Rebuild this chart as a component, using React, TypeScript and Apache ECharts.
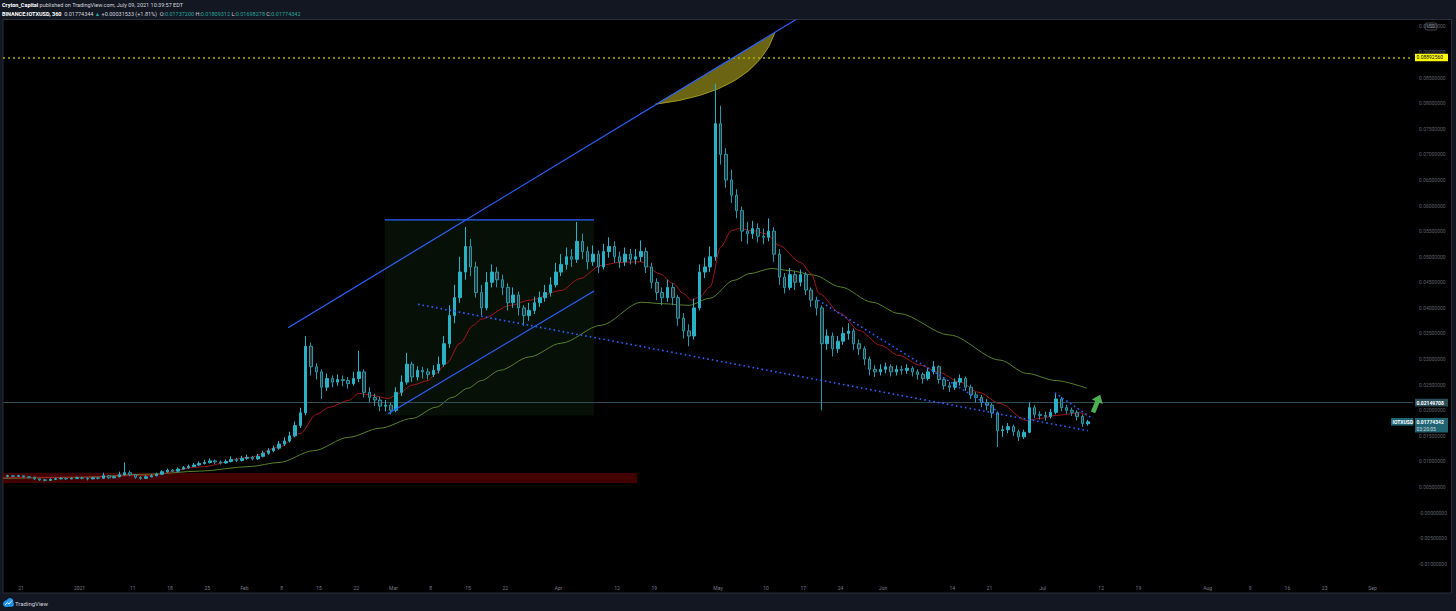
import React, { useEffect, useRef } from "react";
import * as echarts from "echarts";

// ---------- x is measured in days since 2021-01-01 ----------
const DAY = 86400000;
const T0 = Date.UTC(2021, 0, 1);
const START_DAY = -14; // first candle: 2020-12-18 (daily candles)
const X_MIN_DAY = -14.38;
const X_MAX_DAY = 250.6;
const Y_MIN = -0.01336;
const Y_MAX = 0.09625;

// ---------- candles: [open, close, low, high], one per day from 2020-12-18 ----------
const ohlc: number[][] = [
  [0.0071, 0.0072, 0.0069, 0.0074], [0.0072, 0.0071, 0.0069, 0.0073], [0.0071, 0.0072, 0.007, 0.0074],
  [0.0072, 0.007, 0.0068, 0.0073], [0.007, 0.0069, 0.0067, 0.0071], [0.0069, 0.0066, 0.0064, 0.007],
  [0.0066, 0.0064, 0.0062, 0.0067], [0.0064, 0.0063, 0.0061, 0.0066], [0.0063, 0.0065, 0.0062, 0.0067],
  [0.0065, 0.0066, 0.0064, 0.0068], [0.0066, 0.0067, 0.0065, 0.0069], [0.0067, 0.0066, 0.0064, 0.0068],
  [0.0066, 0.0067, 0.0065, 0.0069], [0.0067, 0.0068, 0.0066, 0.007],
  // Jan 2021
  [0.0068, 0.0067, 0.0065, 0.007], [0.0067, 0.0066, 0.0063, 0.0069], [0.0066, 0.0068, 0.0065, 0.007],
  [0.0068, 0.0067, 0.0065, 0.007], [0.0067, 0.0072, 0.0066, 0.0078], [0.0072, 0.0068, 0.0066, 0.0073],
  [0.0068, 0.007, 0.0067, 0.0072], [0.007, 0.0074, 0.0069, 0.008], [0.0074, 0.0078, 0.0072, 0.0098],
  [0.0078, 0.0074, 0.0071, 0.0082], [0.0074, 0.0069, 0.0066, 0.0075], [0.0069, 0.0067, 0.0064, 0.0071],
  [0.0067, 0.007, 0.0066, 0.0073], [0.007, 0.0072, 0.0069, 0.0075], [0.0072, 0.0075, 0.0071, 0.0078],
  [0.0075, 0.008, 0.0074, 0.0083], [0.008, 0.0083, 0.0078, 0.0086], [0.0083, 0.0081, 0.0079, 0.0085],
  [0.0081, 0.0085, 0.008, 0.0088], [0.0085, 0.0088, 0.0084, 0.0091], [0.0088, 0.009, 0.0086, 0.0094],
  [0.009, 0.0093, 0.0089, 0.0097], [0.0093, 0.0096, 0.0091, 0.01], [0.0096, 0.0098, 0.0094, 0.0103],
  [0.0098, 0.0101, 0.0096, 0.0106], [0.0101, 0.0099, 0.0095, 0.0104], [0.0099, 0.0097, 0.0094, 0.0102],
  [0.0097, 0.01, 0.0095, 0.0104], [0.01, 0.0104, 0.0098, 0.011], [0.0104, 0.0102, 0.0099, 0.0107],
  [0.0102, 0.0106, 0.01, 0.0111],
  // Feb
  [0.0106, 0.0108, 0.0103, 0.0113], [0.0108, 0.0105, 0.0102, 0.0111], [0.0105, 0.011, 0.0103, 0.0115],
  [0.011, 0.0116, 0.0108, 0.0121], [0.0116, 0.0121, 0.0113, 0.0126], [0.0121, 0.0126, 0.0118, 0.0131],
  [0.0126, 0.0134, 0.0123, 0.014], [0.0134, 0.014, 0.013, 0.0147], [0.014, 0.015, 0.0137, 0.0158],
  [0.015, 0.017, 0.0147, 0.0178], [0.017, 0.0195, 0.0165, 0.0205], [0.0195, 0.0325, 0.019, 0.0345],
  [0.0325, 0.0285, 0.0268, 0.0332], [0.0285, 0.0275, 0.026, 0.0292], [0.0275, 0.0245, 0.0222, 0.028],
  [0.0245, 0.0262, 0.0238, 0.0272], [0.0262, 0.0255, 0.0245, 0.0268], [0.0255, 0.026, 0.0248, 0.027],
  [0.026, 0.0258, 0.0247, 0.0268], [0.0258, 0.0252, 0.0242, 0.0265], [0.0252, 0.0262, 0.0248, 0.0275],
  [0.0262, 0.0275, 0.0255, 0.0316], [0.0275, 0.0235, 0.0225, 0.028], [0.0235, 0.0225, 0.0215, 0.0245],
  [0.0225, 0.022, 0.0208, 0.0232], [0.022, 0.0208, 0.0198, 0.0226], [0.0208, 0.021, 0.0198, 0.022],
  [0.021, 0.02, 0.0192, 0.0215],
  // Mar
  [0.02, 0.0235, 0.0196, 0.0245], [0.0235, 0.0255, 0.0228, 0.0268], [0.0255, 0.029, 0.025, 0.0312],
  [0.029, 0.0265, 0.0255, 0.0295], [0.0265, 0.0278, 0.0258, 0.0286], [0.0278, 0.0275, 0.0262, 0.0285],
  [0.0275, 0.027, 0.026, 0.0282], [0.027, 0.0278, 0.0265, 0.0288], [0.0278, 0.029, 0.0272, 0.0305],
  [0.029, 0.033, 0.0285, 0.0345], [0.033, 0.0385, 0.0322, 0.0405], [0.0385, 0.042, 0.037, 0.0445],
  [0.042, 0.047, 0.041, 0.05], [0.047, 0.052, 0.0455, 0.0558], [0.052, 0.048, 0.0462, 0.0535],
  [0.048, 0.043, 0.042, 0.049], [0.043, 0.04, 0.0385, 0.0445], [0.04, 0.045, 0.0395, 0.047],
  [0.045, 0.047, 0.044, 0.0485], [0.047, 0.0455, 0.044, 0.048], [0.0455, 0.044, 0.0425, 0.0465],
  [0.044, 0.041, 0.0395, 0.0448], [0.041, 0.0425, 0.04, 0.044], [0.0425, 0.04, 0.0385, 0.0432],
  [0.04, 0.0385, 0.0365, 0.0405], [0.0385, 0.0395, 0.0375, 0.041], [0.0395, 0.041, 0.0388, 0.0422],
  [0.041, 0.042, 0.0402, 0.0432], [0.042, 0.043, 0.0412, 0.0445], [0.043, 0.0445, 0.0422, 0.046],
  [0.0445, 0.047, 0.044, 0.0488],
  // Apr
  [0.047, 0.0485, 0.0462, 0.0505], [0.0485, 0.05, 0.0475, 0.0518], [0.05, 0.0495, 0.048, 0.0515],
  [0.0495, 0.053, 0.0488, 0.0568], [0.053, 0.051, 0.0495, 0.0545], [0.051, 0.049, 0.0475, 0.052],
  [0.049, 0.0505, 0.0482, 0.0522], [0.0505, 0.048, 0.0468, 0.0512], [0.048, 0.051, 0.0475, 0.0525],
  [0.051, 0.052, 0.0498, 0.0538], [0.052, 0.05, 0.0488, 0.053], [0.05, 0.049, 0.0478, 0.051],
  [0.049, 0.0505, 0.0482, 0.0518], [0.0505, 0.0495, 0.0485, 0.0515], [0.0495, 0.05, 0.0485, 0.0515],
  [0.05, 0.051, 0.049, 0.0532], [0.051, 0.048, 0.0468, 0.0518], [0.048, 0.045, 0.0438, 0.0488],
  [0.045, 0.043, 0.0415, 0.0458], [0.043, 0.042, 0.0405, 0.044], [0.042, 0.044, 0.0412, 0.0455],
  [0.044, 0.042, 0.0405, 0.0448], [0.042, 0.038, 0.0365, 0.0425], [0.038, 0.0355, 0.034, 0.039],
  [0.0355, 0.0345, 0.0325, 0.0368], [0.0345, 0.04, 0.0338, 0.0418], [0.04, 0.047, 0.0395, 0.0485],
  [0.047, 0.048, 0.0458, 0.0498], [0.048, 0.05, 0.047, 0.052], [0.05, 0.076, 0.0492, 0.0838],
  // May
  [0.076, 0.07, 0.068, 0.0795], [0.07, 0.065, 0.0635, 0.0712], [0.065, 0.062, 0.0605, 0.067],
  [0.062, 0.059, 0.0575, 0.0632], [0.059, 0.055, 0.053, 0.0598], [0.055, 0.0545, 0.0525, 0.0568],
  [0.0545, 0.0555, 0.0535, 0.057], [0.0555, 0.054, 0.0528, 0.0565], [0.054, 0.0538, 0.0525, 0.0555],
  [0.0538, 0.055, 0.053, 0.0575], [0.055, 0.0505, 0.049, 0.0558], [0.0505, 0.046, 0.0445, 0.0515],
  [0.046, 0.044, 0.0428, 0.0468], [0.044, 0.0465, 0.0435, 0.0478], [0.0465, 0.045, 0.0435, 0.0472],
  [0.045, 0.0465, 0.0442, 0.0475], [0.0465, 0.0435, 0.0425, 0.047], [0.0435, 0.0415, 0.0402, 0.044],
  [0.0415, 0.04, 0.0385, 0.0422], [0.04, 0.033, 0.02, 0.0405], [0.033, 0.0345, 0.0318, 0.0358],
  [0.0345, 0.032, 0.0305, 0.0352], [0.032, 0.0335, 0.0312, 0.0345], [0.0335, 0.035, 0.0328, 0.0362],
  [0.035, 0.0355, 0.0338, 0.037], [0.0355, 0.033, 0.0318, 0.036], [0.033, 0.032, 0.0308, 0.0338],
  [0.032, 0.03, 0.0288, 0.0325], [0.03, 0.028, 0.0268, 0.0305], [0.028, 0.0275, 0.0265, 0.0288],
  [0.0275, 0.028, 0.0268, 0.029],
  // Jun
  [0.028, 0.0285, 0.0272, 0.0293], [0.0285, 0.0275, 0.0266, 0.029], [0.0275, 0.028, 0.0268, 0.0288],
  [0.028, 0.0278, 0.027, 0.0287], [0.0278, 0.0282, 0.0271, 0.029], [0.0282, 0.0275, 0.0266, 0.0286],
  [0.0275, 0.027, 0.026, 0.028], [0.027, 0.0262, 0.0252, 0.0274], [0.0262, 0.0275, 0.0258, 0.0283],
  [0.0275, 0.0285, 0.027, 0.0296], [0.0285, 0.026, 0.0252, 0.0288], [0.026, 0.0248, 0.024, 0.0265],
  [0.0248, 0.0245, 0.0236, 0.0255], [0.0245, 0.0255, 0.024, 0.0262], [0.0255, 0.0262, 0.0248, 0.027],
  [0.0262, 0.0245, 0.0238, 0.0266], [0.0245, 0.023, 0.0222, 0.025], [0.023, 0.0225, 0.0215, 0.0236],
  [0.0225, 0.0215, 0.0206, 0.023], [0.0215, 0.021, 0.02, 0.0222], [0.021, 0.0195, 0.0185, 0.0214],
  [0.0195, 0.016, 0.0128, 0.0198], [0.016, 0.0162, 0.0148, 0.017], [0.0162, 0.0168, 0.0155, 0.0175],
  [0.0168, 0.0158, 0.015, 0.0172], [0.0158, 0.0148, 0.014, 0.0162], [0.0148, 0.0157, 0.0144, 0.0162],
  [0.0157, 0.0205, 0.0155, 0.0215], [0.0205, 0.0192, 0.0185, 0.021], [0.0192, 0.019, 0.0182, 0.0198],
  // Jul
  [0.019, 0.0188, 0.018, 0.0197], [0.0188, 0.0196, 0.0184, 0.0203], [0.0196, 0.0222, 0.0192, 0.0232],
  [0.0222, 0.0205, 0.0198, 0.0226], [0.0205, 0.02, 0.0193, 0.0211], [0.02, 0.0196, 0.0189, 0.0205],
  [0.0196, 0.0188, 0.018, 0.02], [0.0188, 0.0174, 0.0168, 0.0192], [0.01737, 0.01774, 0.01698, 0.01809],
];

// ---------- moving averages: [day index, value] ----------
const redMA: number[][] = [
  [-14.4, 0.0069], [0, 0.0069], [13, 0.0073], [22.5, 0.0089], [32, 0.0108], [37.5, 0.0128], [41.5, 0.0155],
  [44.5, 0.0192], [47, 0.0206], [50.5, 0.0219], [52.5, 0.0233], [55, 0.0229], [58, 0.0223], [60, 0.0233],
  [62.5, 0.0249], [65.5, 0.0258], [67, 0.0272], [69, 0.0292], [71.5, 0.0331], [74, 0.0366], [75.5, 0.0378],
  [81, 0.0405], [84.5, 0.0415], [90.5, 0.0434], [94, 0.0457], [98, 0.0483], [101.5, 0.0489], [105.5, 0.049],
  [109, 0.0467], [111.5, 0.0448], [113.5, 0.0428], [115, 0.0415], [116.5, 0.0421], [118.5, 0.0441],
  [120.5, 0.0519], [122.5, 0.0551], [124, 0.0555], [126.5, 0.0551], [129, 0.0545], [131.5, 0.0522],
  [135.5, 0.0489], [137.5, 0.0467], [139, 0.0428], [143, 0.0389], [146.5, 0.0356], [150.5, 0.0327],
  [154, 0.0307], [158, 0.0288], [161.5, 0.0274], [165.5, 0.0255], [169, 0.0235], [173, 0.0213],
  [178, 0.018], [180.5, 0.0184], [183.5, 0.019], [188, 0.0195], [189.3, 0.019],
];
const greenMA: number[][] = [
  [-14.4, 0.0067], [0, 0.0069], [13, 0.0075], [22.5, 0.0081], [32, 0.009], [37.5, 0.0098], [44, 0.0121],
  [50.5, 0.0147], [56.5, 0.0165], [62.5, 0.0184], [67, 0.0206], [70, 0.0225], [73, 0.0243], [75.5, 0.0258],
  [79, 0.0278], [84.5, 0.0304], [90.5, 0.0331], [98, 0.0366], [105.5, 0.0411], [110, 0.0408], [114.5, 0.0405],
  [118.5, 0.0419], [123, 0.0454], [126, 0.0467], [130, 0.0477], [133.5, 0.0473], [138, 0.0464], [143, 0.0441],
  [149, 0.0411], [154, 0.0389], [163.5, 0.0347], [173, 0.0298], [178, 0.0272], [183.5, 0.0258], [189.3, 0.0243],
];

// ---------- drawings (day index, price) ----------
const bigTrend = [[39.2, 0.0361], [136, 0.0972]];
const channelLow = [[58, 0.0193], [96.7, 0.0433]];
const channelTop = [[57.4, 0.0572], [96.7, 0.0572]];
const greenBox = [[57.4, 0.0572], [96.7, 0.019]];
const redZone = [[X_MIN_DAY, 0.00774], [104.8, 0.00578]];
const dottedSupport = [[63.6, 0.0407], [189.5, 0.016]];
const dottedResist = [[138.8, 0.0415], [172.6, 0.0198]];
const dottedFlag = [[183.3, 0.0234], [190.5, 0.0183]];
const arcShape = [108.2, 0.0798, 130.7, 0.0938, 126.9, 0.0821]; // start, end, control
const arrowAnchor = [191.1, 0.0212];
const YELLOW_LEVEL = 0.0889256;
const PRICE_LINE = 0.02149708;
const LAST_PRICE = 0.01774342;

// ---------- axis ticks ----------
const xTickDates = [
  "2020-12-21", "2021-01-01", "2021-01-11", "2021-01-18", "2021-01-25", "2021-02-01", "2021-02-08",
  "2021-02-15", "2021-02-22", "2021-03-01", "2021-03-08", "2021-03-15", "2021-03-22", "2021-04-01",
  "2021-04-12", "2021-04-19", "2021-05-01", "2021-05-10", "2021-05-17", "2021-05-24", "2021-06-01",
  "2021-06-14", "2021-06-21", "2021-07-01", "2021-07-12", "2021-07-19", "2021-08-01", "2021-08-09",
  "2021-08-16", "2021-08-23", "2021-09-01",
];
const xTickLabels = [
  "21", "2021", "11", "18", "25", "Feb", "8", "15", "22", "Mar", "8", "15", "22", "Apr", "12", "19",
  "May", "10", "17", "24", "Jun", "14", "21", "Jul", "12", "19", "Aug", "9", "16", "23", "Sep",
];
const yTickValues = [
  0.095, 0.09, 0.085, 0.08, 0.075, 0.07, 0.065, 0.06, 0.055, 0.05, 0.045, 0.04, 0.035, 0.03, 0.025, 0.02,
  0.015, 0.01, 0.005, 0, -0.005, -0.01,
];
const yTickLabels = [
  "0.09500000", "0.09000000", "0.08500000", "0.08000000", "0.07500000", "0.07000000", "0.06500000",
  "0.06000000", "0.05500000", "0.05000000", "0.04500000", "0.04000000", "0.03500000", "0.03000000",
  "0.02500000", "0.02000000", "0.01500000", "0.01000000", "0.00500000", "-0.00000000", "-0.00500000",
  "-0.01000000",
];

const HEADER_1 = "{b|Cryton_Capital} published on TradingView.com, July 09, 2021 10:39:57 EDT";
const HEADER_2 =
  "{b|BINANCE:IOTXUSD, 360}  0.01774344 {g|▲} +0.00031533 (+1.81%)  O:{g|0.01737200} H:{g|0.01809312} L:{g|0.01698278} C:{g|0.01774342}";

const FONT = "Roboto, 'Noto Sans', sans-serif";

export default function App() {
  const ref = useRef<HTMLDivElement>(null);
  useEffect(() => {
    if (!ref.current) return;
    const chart = echarts.init(ref.current, null, { renderer: "svg" });

    const candleData = ohlc.map((r, i) => [START_DAY + i + 0.5, r[0], r[1], r[2], r[3]]);
    const xLabelMap = new Map<number, string>();
    const xTickDays = xTickDates.map((s, i) => {
      const d = Math.round((Date.parse(s) - T0) / DAY);
      xLabelMap.set(d, xTickLabels[i]);
      return d;
    });
    const yLabelMap = new Map<number, string>();
    yTickValues.forEach((v, i) => yLabelMap.set(Math.round(v * 1000), yTickLabels[i]));

    const blue = "#2962ff";
    const trendLine = (data: number[][], dotted: boolean) => ({
      type: "line",
      data,
      symbol: "none",
      silent: true,
      z: 6,
      clip: true,
      lineStyle: { color: blue, width: dotted ? 1.6 : 1.2, type: dotted ? [1.6, 3] : "solid" },
    });

    const option: any = {
      animation: false,
      backgroundColor: "#000000",
      grid: { left: 3, right: 43, top: 20, bottom: 30, containLabel: false },
      xAxis: {
        type: "value",
        min: X_MIN_DAY,
        max: X_MAX_DAY,
        axisLine: { show: false },
        axisTick: { show: false },
        splitLine: { show: false },
        axisLabel: {
          customValues: xTickDays,
          formatter: (v: number) => xLabelMap.get(Math.round(v)) ?? "",
          color: "#787b86",
          fontSize: 5,
          fontFamily: FONT,
          margin: 4,
          hideOverlap: false,
        },
      },
      yAxis: {
        type: "value",
        position: "right",
        min: Y_MIN,
        max: Y_MAX,
        axisLine: { show: false },
        axisTick: { show: false },
        splitLine: { show: false },
        axisLabel: {
          customValues: yTickValues,
          formatter: (v: number) => yLabelMap.get(Math.round(v * 1000)) ?? "",
          color: "#5f626b",
          fontSize: 5,
          fontFamily: FONT,
          margin: 6,
          align: "left",
        },
      },
      series: [
        {
          type: "line",
          name: "box",
          data: channelTop,
          symbol: "none",
          silent: true,
          z: 1,
          lineStyle: { color: blue, width: 1.2 },
          markArea: {
            silent: true,
            label: { show: false },
            data: [
              [
                { coord: greenBox[0], itemStyle: { color: "rgba(76,175,80,0.09)" } },
                { coord: greenBox[1] },
              ],
              [
                { coord: redZone[0], itemStyle: { color: "rgba(120,0,0,0.55)" } },
                { coord: redZone[1] },
              ],
            ],
          },
        },
        {
          type: "custom",
          name: "arc",
          silent: true,
          z: 4,
          data: [arcShape],
          encode: { x: [0, 2, 4], y: [1, 3, 5] },
          renderItem: (_p: any, api: any) => {
            const a = api.coord([api.value(0), api.value(1)]);
            const b = api.coord([api.value(2), api.value(3)]);
            const c = api.coord([api.value(4), api.value(5)]);
            return {
              type: "bezierCurve",
              shape: { x1: a[0], y1: a[1], x2: b[0], y2: b[1], cpx1: c[0], cpy1: c[1] },
              style: { fill: "rgba(125,118,22,0.85)", stroke: "#9e9520", lineWidth: 1 },
            };
          },
        },
        {
          type: "line",
          name: "MA200",
          data: greenMA,
          symbol: "none",
          silent: true,
          smooth: 0.3,
          smoothMonotone: "x",
          z: 3,
          lineStyle: { color: "#58802a", width: 1 },
          markLine: {
            silent: true,
            precision: 10,
            symbol: ["none", "none"],
            label: { show: false },
            data: [
              { yAxis: YELLOW_LEVEL, lineStyle: { color: "#b0b000", type: [2, 3], width: 1.5 } },
              { yAxis: PRICE_LINE, lineStyle: { color: "#2f4c56", type: "solid", width: 1 } },
            ],
          },
        },
        {
          type: "line",
          name: "MA50",
          data: redMA,
          symbol: "none",
          silent: true,
          smooth: 0.3,
          smoothMonotone: "x",
          z: 3,
          lineStyle: { color: "#a3161a", width: 1 },
        },
        {
          type: "candlestick",
          name: "IOTXUSD",
          data: candleData,
          encode: { x: 0, y: [1, 2, 3, 4] },
          barWidth: 3,
          silent: true,
          z: 5,
          itemStyle: {
            color: "#2ab1c6",
            color0: "#333333",
            borderColor: "#2ab1c6",
            borderColor0: "#2698aa",
            borderWidth: 1,
          },
        },
        trendLine(bigTrend, false),
        trendLine(channelLow, false),
        trendLine(dottedSupport, true),
        trendLine(dottedResist, true),
        trendLine(dottedFlag, true),
        {
          type: "custom",
          name: "arrow",
          silent: true,
          z: 7,
          data: [arrowAnchor],
          renderItem: (_p: any, api: any) => {
            const p = api.coord([api.value(0), api.value(1)]);
            return {
              type: "polygon",
              x: p[0],
              y: p[1],
              rotation: -0.38,
              shape: { points: [[0, -10], [-6, -2.5], [-2.3, -2.5], [-2.3, 9], [2.3, 9], [2.3, -2.5], [6, -2.5]] },
              style: { fill: "#4caf50" },
            };
          },
        },
      ],
    };
    chart.setOption(option);

    const py = (v: number) => chart.convertToPixel({ yAxisIndex: 0 }, v) as number;
    const yYel = py(YELLOW_LEVEL);
    const ySlate = py(PRICE_LINE);
    const yLast = py(LAST_PRICE);
    const txt = (x: number, y: number, text: string, fill: string, size: number, extra: any = {}) => ({
      type: "text",
      x,
      y,
      silent: true,
      style: { text, fill, fontSize: size, fontFamily: FONT, verticalAlign: "middle", align: "left", ...extra },
    });
    const navy = "#131722";

    chart.setOption({
      graphic: [
        { type: "rect", silent: true, shape: { x: 0, y: 0, width: 1456, height: 19.5 }, style: { fill: navy } },
        { type: "rect", silent: true, shape: { x: 0, y: 593, width: 1456, height: 18 }, style: { fill: navy } },
        { type: "rect", silent: true, shape: { x: 0, y: 0, width: 3, height: 611 }, style: { fill: navy } },
        { type: "rect", silent: true, shape: { x: 1451.5, y: 0, width: 4.5, height: 611 }, style: { fill: navy } },
        {
          type: "rect",
          silent: true,
          shape: { x: 3, y: 19.5, width: 1448.5, height: 573.5 },
          style: { fill: "none", stroke: "#2a2e39", lineWidth: 1 },
        },
        txt(2, 5, HEADER_1, "#d1d4dc", 5.5, {
          rich: { b: { fontWeight: "bold", fontSize: 5.5, fill: "#ffffff", fontFamily: FONT } },
        }),
        txt(2, 14, HEADER_2, "#d1d4dc", 5.5, {
          rich: {
            b: { fontWeight: "bold", fontSize: 5.5, fill: "#ffffff", fontFamily: FONT },
            g: { fontSize: 5.5, fill: "#26a69a", fontFamily: FONT },
          },
        }),
        { type: "rect", silent: true, shape: { x: 1425, y: 23, width: 12, height: 7, r: 2 }, style: { fill: "#000", stroke: "#5d606b", lineWidth: 0.7 } },
        txt(1431, 26.5, "USD", "#9598a1", 4.5, { align: "center" }),
        { type: "rect", silent: true, shape: { x: 1415, y: yYel - 3.8, width: 33, height: 7.6 }, style: { fill: "#ffff00" } },
        txt(1416.5, yYel, YELLOW_LEVEL.toFixed(8), "#000000", 5),
        { type: "rect", silent: true, shape: { x: 1415, y: ySlate - 3.8, width: 33, height: 7.6 }, style: { fill: "#2b4d57" } },
        txt(1416.5, ySlate, PRICE_LINE.toFixed(8), "#ffffff", 5, { fontWeight: "bold" }),
        { type: "rect", silent: true, shape: { x: 1391, y: yLast - 3.8, width: 22.5, height: 7.6 }, style: { fill: "#1e6473" } },
        txt(1392.5, yLast, "IOTXUSD", "#ffffff", 5, { fontWeight: "bold" }),
        { type: "rect", silent: true, shape: { x: 1415, y: yLast - 3.8, width: 33, height: 14.5 }, style: { fill: "#1e6473" } },
        txt(1416.5, yLast, LAST_PRICE.toFixed(8), "#ffffff", 5, { fontWeight: "bold" }),
        txt(1416.5, yLast + 6.8, "03:20:05", "#d1d4dc", 5),
        { type: "circle", silent: true, shape: { cx: 6.5, cy: 603.5, r: 3.2 }, style: { fill: "#2196f3" } },
        { type: "circle", silent: true, shape: { cx: 10, cy: 601.5, r: 3.4 }, style: { fill: "#2196f3" } },
        { type: "rect", silent: true, shape: { x: 3.3, y: 602, width: 10.5, height: 4.8, r: 2 }, style: { fill: "#2196f3" } },
        {
          type: "polyline",
          silent: true,
          shape: { points: [[5, 605], [7.5, 602.5], [9, 604], [12, 600.5]] },
          style: { stroke: "#ffffff", lineWidth: 0.8, fill: "none" },
        },
        txt(15, 603, "TradingView", "#d1d4dc", 6),
      ],
    });

    return () => chart.dispose();
  }, []);

  return <div ref={ref} style={{ position: "fixed", left: 0, top: 0, width: 1456, height: 611 }} />;
}
